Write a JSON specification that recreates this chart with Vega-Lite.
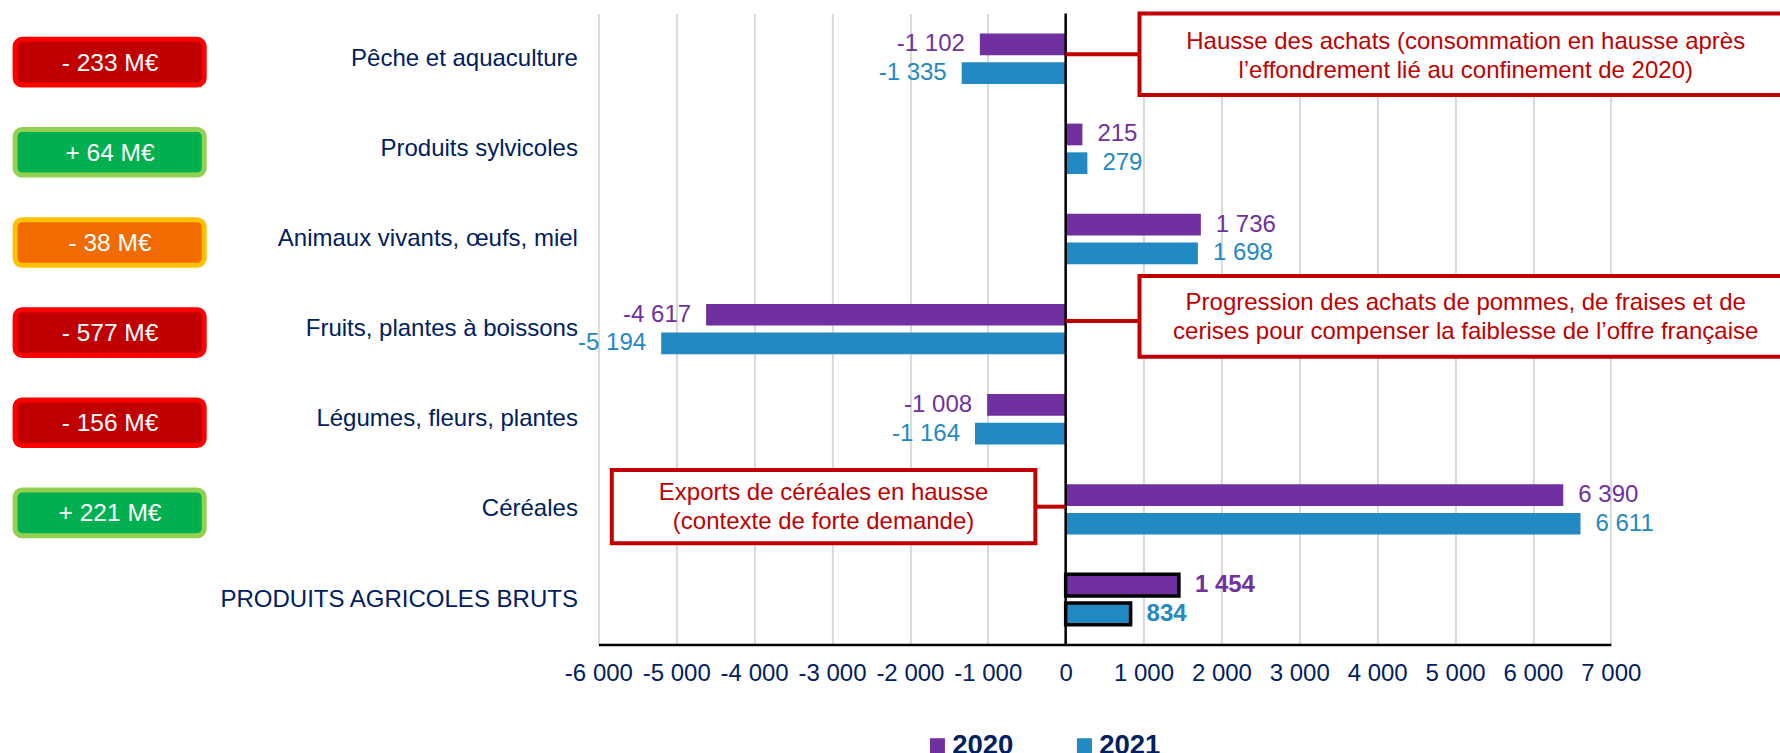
{
  "$schema": "https://vega.github.io/schema/vega-lite/v6.json",
  "width": 1012.4,
  "height": 631,
  "autosize": {"type": "none"},
  "padding": {"left": 598.4, "top": 13.6, "right": 169.2, "bottom": 108.4},
  "background": "white",
  "config": {
    "font": "Liberation Sans",
    "view": {"stroke": null},
    "locale": {"number": {"decimal": ",", "thousands": " ", "grouping": [3], "currency": ["", " €"], "minus": "-"}}
  },
  "datasets": {
    "commerce": [
      {"cat": "Pêche et aquaculture", "annee": "2020", "valeur": -1102},
      {"cat": "Pêche et aquaculture", "annee": "2021", "valeur": -1335},
      {"cat": "Produits sylvicoles", "annee": "2020", "valeur": 215},
      {"cat": "Produits sylvicoles", "annee": "2021", "valeur": 279},
      {"cat": "Animaux vivants, œufs, miel", "annee": "2020", "valeur": 1736},
      {"cat": "Animaux vivants, œufs, miel", "annee": "2021", "valeur": 1698},
      {"cat": "Fruits, plantes à boissons", "annee": "2020", "valeur": -4617},
      {"cat": "Fruits, plantes à boissons", "annee": "2021", "valeur": -5194},
      {"cat": "Légumes, fleurs, plantes", "annee": "2020", "valeur": -1008},
      {"cat": "Légumes, fleurs, plantes", "annee": "2021", "valeur": -1164},
      {"cat": "Céréales", "annee": "2020", "valeur": 6390},
      {"cat": "Céréales", "annee": "2021", "valeur": 6611},
      {"cat": "PRODUITS AGRICOLES BRUTS", "annee": "2020", "valeur": 1454},
      {"cat": "PRODUITS AGRICOLES BRUTS", "annee": "2021", "valeur": 834}
    ],
    "ecarts": [
      {"cat": "Pêche et aquaculture", "ecart": "- 233 M€", "tendance": "baisse"},
      {"cat": "Produits sylvicoles", "ecart": "+ 64 M€", "tendance": "hausse"},
      {"cat": "Animaux vivants, œufs, miel", "ecart": "- 38 M€", "tendance": "baisse modérée"},
      {"cat": "Fruits, plantes à boissons", "ecart": "- 577 M€", "tendance": "baisse"},
      {"cat": "Légumes, fleurs, plantes", "ecart": "- 156 M€", "tendance": "baisse"},
      {"cat": "Céréales", "ecart": "+ 221 M€", "tendance": "hausse"}
    ]
  },
  "resolve": {"scale": {"y": "independent"}, "axis": {"y": "independent"}},
  "layer": [
    {
      "layer": [
        {
          "data": {"name": "commerce"},
          "mark": {"type": "bar"},
          "encoding": {
            "y": {"field": "cat", "type": "nominal", "sort": null,
              "scale": {"domain": ["Pêche et aquaculture", "Produits sylvicoles", "Animaux vivants, œufs, miel", "Fruits, plantes à boissons", "Légumes, fleurs, plantes", "Céréales", "PRODUITS AGRICOLES BRUTS"], "paddingInner": 0, "paddingOuter": 0},
              "axis": {"title": null, "ticks": false, "tickSize": 0, "domain": false, "grid": false, "labelFontSize": 24, "labelColor": "#002060", "labelPadding": 21, "labelLimit": 600}},
            "yOffset": {"field": "annee", "type": "nominal", "scale": {"domain": ["2020", "2021"], "paddingInner": 0.244, "paddingOuter": 0.692}},
            "x": {"field": "valeur", "type": "quantitative",
              "scale": {"domain": [-6000, 7000], "nice": false, "zero": false},
              "axis": {"title": null, "values": [-6000, -5000, -4000, -3000, -2000, -1000, 0, 1000, 2000, 3000, 4000, 5000, 6000, 7000], "format": ",d", "labelFontSize": 24, "labelColor": "#002060", "grid": true, "gridColor": "#D9D9D9", "gridWidth": 2, "domainColor": "black", "domainWidth": 2.5, "ticks": false, "tickSize": 0, "labelPadding": 17, "labelFlush": false, "labelOverlap": false}},
            "color": {"field": "annee", "type": "nominal",
              "scale": {"domain": ["2020", "2021"], "range": ["#7030A0", "#2389C3"]},
              "legend": {"title": null, "orient": "none", "legendX": 325.3, "legendY": 718, "direction": "horizontal", "symbolType": "square", "symbolSize": 225, "symbolStrokeWidth": 0, "labelFontSize": 27.5, "labelFontWeight": "bold", "labelColor": "#002060", "labelOffset": 1, "columnPadding": 57}}
          }
        },
        {
          "data": {"name": "commerce"},
          "transform": [{"filter": "datum.cat === 'PRODUITS AGRICOLES BRUTS'"}],
          "mark": {"type": "bar", "fillOpacity": 0, "stroke": "black", "strokeWidth": 3.5},
          "encoding": {
            "y": {"field": "cat", "type": "nominal", "sort": null},
            "yOffset": {"field": "annee", "type": "nominal"},
            "x": {"field": "valeur", "type": "quantitative"}
          }
        },
        {
          "data": {"name": "commerce"},
          "transform": [{"filter": "datum.valeur < 0"}],
          "mark": {"type": "text", "align": "right", "baseline": "middle", "dx": -15, "fontSize": 24},
          "encoding": {
            "y": {"field": "cat", "type": "nominal", "sort": null},
            "yOffset": {"field": "annee", "type": "nominal"},
            "x": {"field": "valeur", "type": "quantitative"},
            "text": {"field": "valeur", "type": "quantitative", "format": ",d"},
            "color": {"field": "annee", "type": "nominal"}
          }
        },
        {
          "data": {"name": "commerce"},
          "transform": [{"filter": "datum.valeur > 0 && datum.cat !== 'PRODUITS AGRICOLES BRUTS'"}],
          "mark": {"type": "text", "align": "left", "baseline": "middle", "dx": 15, "fontSize": 24},
          "encoding": {
            "y": {"field": "cat", "type": "nominal", "sort": null},
            "yOffset": {"field": "annee", "type": "nominal"},
            "x": {"field": "valeur", "type": "quantitative"},
            "text": {"field": "valeur", "type": "quantitative", "format": ",d"},
            "color": {"field": "annee", "type": "nominal"}
          }
        },
        {
          "data": {"name": "commerce"},
          "transform": [{"filter": "datum.cat === 'PRODUITS AGRICOLES BRUTS'"}],
          "mark": {"type": "text", "align": "left", "baseline": "middle", "dx": 16, "fontSize": 24, "fontWeight": "bold"},
          "encoding": {
            "y": {"field": "cat", "type": "nominal", "sort": null},
            "yOffset": {"field": "annee", "type": "nominal"},
            "x": {"field": "valeur", "type": "quantitative"},
            "text": {"field": "valeur", "type": "quantitative", "format": ",d"},
            "color": {"field": "annee", "type": "nominal"}
          }
        },
        {
          "data": {"values": [{}]},
          "mark": {"type": "rule", "color": "black", "strokeWidth": 2.5},
          "encoding": {"x": {"datum": 0}}
        },
        {
          "data": {"name": "ecarts"},
          "mark": {"type": "bar", "height": {"band": 0.506}, "yOffset": 3.5, "cornerRadius": 7, "strokeWidth": 5},
          "encoding": {
            "y": {"field": "cat", "type": "nominal", "sort": null},
            "x": {"datum": -13490},
            "x2": {"datum": -11062},
            "fill": {"field": "tendance", "type": "nominal", "scale": {"domain": ["baisse", "hausse", "baisse modérée"], "range": ["#C00000", "#00B050", "#F26B00"]}, "legend": null},
            "stroke": {"field": "tendance", "type": "nominal", "scale": {"domain": ["baisse", "hausse", "baisse modérée"], "range": ["#FF0000", "#92D050", "#FFC000"]}, "legend": null}
          }
        },
        {
          "data": {"name": "ecarts"},
          "mark": {"type": "text", "align": "center", "baseline": "middle", "fontSize": 24.5, "color": "white"},
          "encoding": {
            "y": {"field": "cat", "type": "nominal", "sort": null, "bandPosition": 0.555},
            "x": {"datum": -12271},
            "text": {"field": "ecart", "type": "nominal"}
          }
        }
      ]
    },
    {
      "layer": [
        {
          "data": {"values": [{"note": "Hausse des achats (consommation en hausse après\nl’effondrement lié au confinement de 2020)"}]},
          "layer": [
            {
              "mark": {"type": "rule", "color": "#C00000", "strokeWidth": 4},
              "encoding": {
                "x": {"datum": 0}, "x2": {"datum": 948},
                "y": {"datum": 0.452, "type": "quantitative", "scale": {"domain": [0, 7], "reverse": true, "nice": false, "zero": false}, "axis": null}
              }
            },
            {
              "mark": {"type": "rect", "fill": "white", "stroke": "#C00000", "strokeWidth": 4},
              "encoding": {
                "x": {"datum": 948}, "x2": {"datum": 9500},
                "y": {"datum": 0, "type": "quantitative"}, "y2": {"datum": 0.903}
              }
            },
            {
              "mark": {"type": "text", "align": "center", "baseline": "middle", "fontSize": 24, "color": "#C00000", "lineBreak": "\n", "lineHeight": 28.8},
              "encoding": {
                "x": {"datum": 5137},
                "y": {"datum": 0.315, "type": "quantitative"},
                "text": {"field": "note", "type": "nominal"}
              }
            }
          ]
        },
        {
          "data": {"values": [{"note": "Progression des achats de pommes, de fraises et de\ncerises pour compenser la faiblesse de l’offre française"}]},
          "layer": [
            {
              "mark": {"type": "rule", "color": "#C00000", "strokeWidth": 4},
              "encoding": {
                "x": {"datum": 0}, "x2": {"datum": 948},
                "y": {"datum": 3.41, "type": "quantitative"}
              }
            },
            {
              "mark": {"type": "rect", "fill": "white", "stroke": "#C00000", "strokeWidth": 4},
              "encoding": {
                "x": {"datum": 948}, "x2": {"datum": 9500},
                "y": {"datum": 2.911, "type": "quantitative"}, "y2": {"datum": 3.806}
              }
            },
            {
              "mark": {"type": "text", "align": "center", "baseline": "middle", "fontSize": 24, "color": "#C00000", "lineBreak": "\n", "lineHeight": 28.8},
              "encoding": {
                "x": {"datum": 5137},
                "y": {"datum": 3.211, "type": "quantitative"},
                "text": {"field": "note", "type": "nominal"}
              }
            }
          ]
        },
        {
          "data": {"values": [{"note": "Exports de céréales en hausse\n(contexte de forte demande)"}]},
          "layer": [
            {
              "mark": {"type": "rule", "color": "#C00000", "strokeWidth": 4},
              "encoding": {
                "x": {"datum": -389}, "x2": {"datum": 0},
                "y": {"datum": 5.47, "type": "quantitative"}
              }
            },
            {
              "mark": {"type": "rect", "fill": "white", "stroke": "#C00000", "strokeWidth": 4},
              "encoding": {
                "x": {"datum": -5828}, "x2": {"datum": -389},
                "y": {"datum": 5.063, "type": "quantitative"}, "y2": {"datum": 5.876}
              }
            },
            {
              "mark": {"type": "text", "align": "center", "baseline": "middle", "fontSize": 24, "color": "#C00000", "lineBreak": "\n", "lineHeight": 28.8},
              "encoding": {
                "x": {"datum": -3109},
                "y": {"datum": 5.322, "type": "quantitative"},
                "text": {"field": "note", "type": "nominal"}
              }
            }
          ]
        }
      ]
    }
  ]
}
